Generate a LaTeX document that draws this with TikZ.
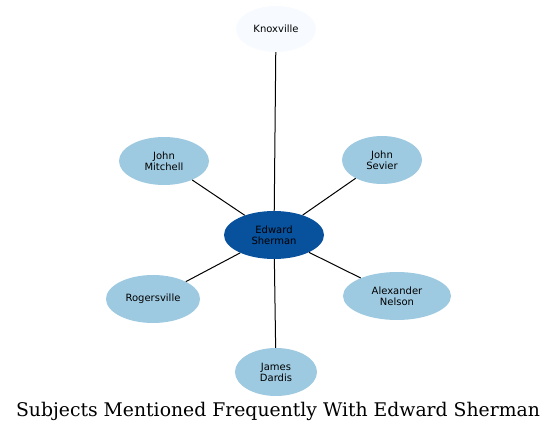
\documentclass[tikz,border=0pt]{standalone}
\usepackage{fontspec}
\setmainfont{DejaVu Sans}
\newfontfamily\titlefont{DejaVu Serif}
\usetikzlibrary{shapes.geometric}
\definecolor{pale}{HTML}{F7FBFF}
\definecolor{mid}{HTML}{9ECAE1}
\definecolor{dark}{HTML}{08519C}
\begin{document}
\begin{tikzpicture}[x=1pt,y=-1pt,
  ent/.style={ellipse,fill=mid,inner sep=0pt,minimum height=48pt,font=\fontsize{10}{11}\selectfont,align=center},
  link/.style={draw=black,line width=1pt}]
\useasboundingbox (0,0) rectangle (557,433);
\node[ent,fill=pale,minimum width=80pt,minimum height=46pt] (kn) at (276,29) {Knoxville};
\node[ent,fill=dark,minimum width=100pt] (es) at (274,235) {Edward\\Sherman};
\node[ent,minimum width=90pt] (jm) at (164,161) {John\\Mitchell};
\node[ent,minimum width=80pt] (js) at (382,160) {John\\Sevier};
\node[ent,minimum width=94pt] (ro) at (153,299) {Rogersville};
\node[ent,minimum width=108pt] (an) at (397,296) {Alexander\\Nelson};
\node[ent,minimum width=82pt] (jd) at (276,372) {James\\Dardis};
\draw[link] (es) -- (kn);
\draw[link] (es) -- (jm);
\draw[link] (es) -- (js);
\draw[link] (es) -- (ro);
\draw[link] (es) -- (an);
\draw[link] (es) -- (jd);
\node[font=\titlefont\fontsize{18.8}{22}\selectfont] (title) at (278,411) {Subjects Mentioned Frequently With Edward Sherman};
\end{tikzpicture}
\end{document}
